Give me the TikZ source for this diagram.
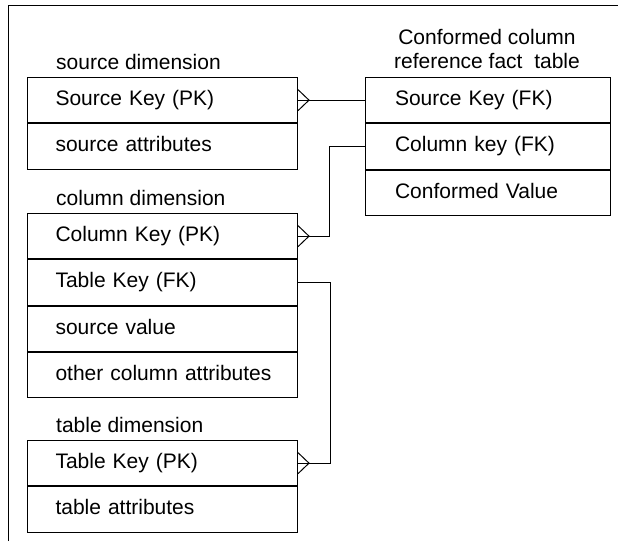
\documentclass[tikz,border=0pt]{standalone}
\usepackage{fontspec}
\setmainfont{Liberation Sans}
\usetikzlibrary{calc,positioning}
\tikzset{
  row/.style={draw, line width=1pt, minimum height=45.3pt, inner xsep=28pt, inner ysep=0pt,
    text height=15pt, text depth=4.5pt, align=left, anchor=north west},
  lrow/.style={row, text width=214pt},
  frow/.style={row, text width=186pt, inner xsep=29.5pt},
  lbl/.style={anchor=base west, inner sep=0pt},
  conn/.style={line width=1pt},
}
\newcommand\crowfoot[1]{\draw[conn] ($(#1.east)+(0,-10.5)$) -- ($(#1.east)+(11,0)$) -- ($(#1.east)+(0,10.5)$);}
\begin{document}
\begin{tikzpicture}[x=1pt,y=-1pt,font=\fontsize{21}{24}\selectfont]
\useasboundingbox (0,0) rectangle (618,541);
% frame
\draw[line width=1pt] (8.5,541) -- (8.5,5.5) -- (618,5.5);
% source dimension
\node[lbl] (srclbl) at (56,69) {source dimension};
\node[lrow] (skpk) at (27,77) {Source Key (PK)};
\node[lrow, below=0pt of skpk.south west, anchor=north west] (srcattr) {source attributes};
% column dimension
\node[lbl] (collbl) at (56,205) {column dimension};
\node[lrow] (ckpk) at (27,213) {Column Key (PK)};
\node[lrow, below=0pt of ckpk.south west, anchor=north west] (tkfk) {Table Key (FK)};
\node[lrow, below=0pt of tkfk.south west, anchor=north west] (srcval) {source value};
\node[lrow, below=0pt of srcval.south west, anchor=north west] (othcol) {\mbox{other column attributes}};
% table dimension
\node[lbl] (tbllbl) at (56,432) {table dimension};
\node[lrow] (tkpk) at (27,440) {Table Key (PK)};
\node[lrow, below=0pt of tkpk.south west, anchor=north west] (tblattr) {table attributes};
% fact table
\node[anchor=south, inner sep=0pt, align=center] (factlbl) at (487,69) {Conformed column\\reference fact\ \ table};
\node[frow] (skfk) at (365,77) {Source Key (FK)};
\node[frow, below=0pt of skfk.south west, anchor=north west] (ckfk) {Column key (FK)};
\node[frow, below=0pt of ckfk.south west, anchor=north west] (confval) {Conformed Value};
% connectors
\draw[conn] (skpk.east) -- (skfk.west);
\crowfoot{skpk}
\draw[conn] (ckfk.west) -- ++(-36,0) |- (ckpk.east);
\crowfoot{ckpk}
\draw[conn] (tkfk.east) -- ++(32,0) |- (tkpk.east);
\crowfoot{tkpk}
\end{tikzpicture}
\end{document}
